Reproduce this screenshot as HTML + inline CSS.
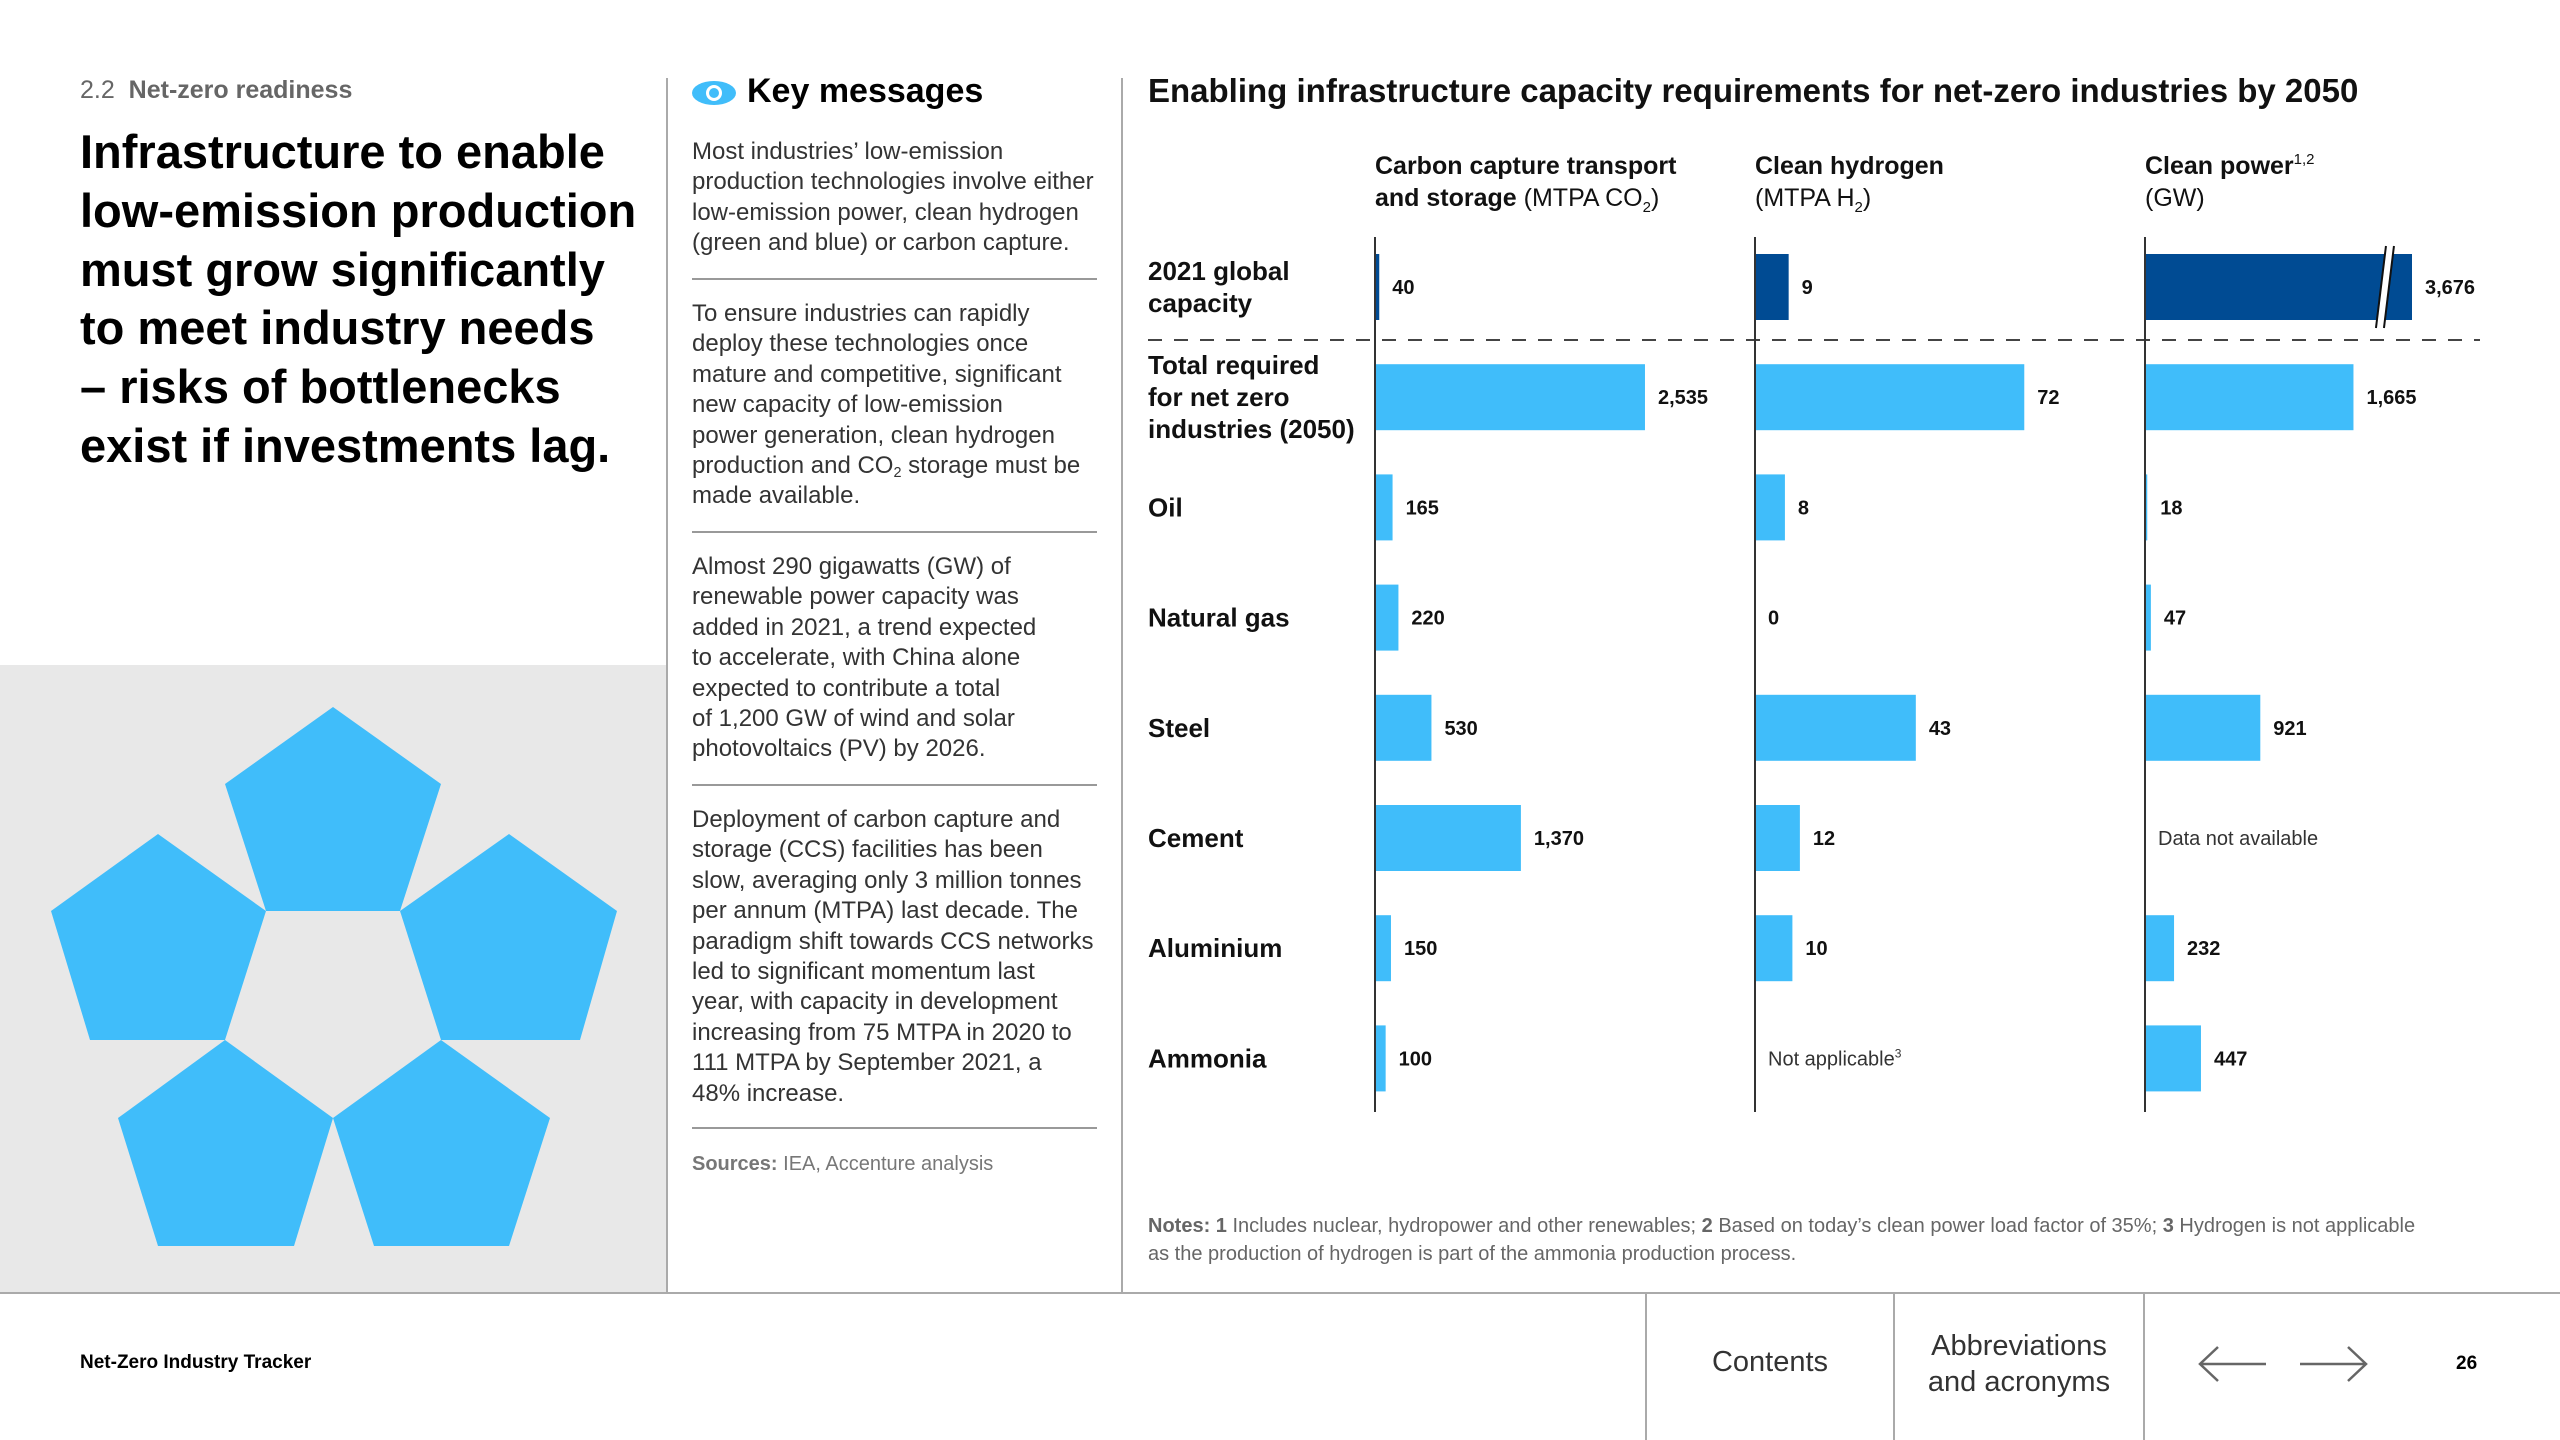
<!DOCTYPE html>
<html><head><meta charset="utf-8">
<style>
body{margin:0;width:2560px;height:1440px;position:relative;background:#fff;font-family:"Liberation Sans",Arial,sans-serif;color:#000;overflow:hidden}
.abs{position:absolute}
.p{position:absolute;left:692px;font-size:24px;line-height:30.4px;color:#333;white-space:nowrap}
.sep{position:absolute;left:692px;width:405px;height:2px;background:#999}
sub{font-size:60%;vertical-align:-4px;line-height:0}
</style></head><body>
<div class="abs" style="left:80px;top:76px;font-size:25px;color:#666">2.2&nbsp; <b>Net-zero readiness</b></div>
<div class="abs" style="left:80px;top:123px;font-size:47px;line-height:58.8px;font-weight:bold;white-space:nowrap">Infrastructure to enable<br>low-emission production<br>must grow significantly<br>to meet industry needs<br>– risks of bottlenecks<br>exist if investments lag.</div>
<div class="abs" style="left:0;top:665px;width:666px;height:628px;background:#e8e8e8"></div>
<svg class="abs" style="left:0;top:0" width="700" height="1300">
<g fill="#40bdfa">
<polygon points="333,707 441,784 400,911 266,911 225,784"/>
<polygon points="158,834 266,911 225,1040 90,1040 51,911"/>
<polygon points="509,834 617,911 580,1040 441,1040 400,911"/>
<polygon points="225,1040 333,1118 294,1246 158,1246 118,1118"/>
<polygon points="441,1040 550,1118 509,1246 374,1246 333,1118"/>
</g></svg>
<div class="abs" style="left:666px;top:78px;width:2px;height:1215px;background:#aaa"></div>
<div class="abs" style="left:1121px;top:78px;width:2px;height:1215px;background:#aaa"></div>
<div class="abs" style="left:0;top:1292px;width:2560px;height:2px;background:#aaa"></div>

<svg class="abs" style="left:690px;top:78px" width="48" height="30"><ellipse cx="24" cy="15" rx="22" ry="12" fill="#40bdfa"/><circle cx="24" cy="15" r="8" fill="#fff"/><circle cx="24" cy="15" r="5" fill="#40bdfa"/></svg>
<div class="abs" style="left:747px;top:72px;font-size:34px;font-weight:bold">Key messages</div>
<div class="p" style="top:137px">Most industries’ low-emission<br>production technologies involve either<br>low-emission power, clean hydrogen<br>(green and blue) or carbon capture.</div>
<div class="sep" style="top:278px"></div>
<div class="p" style="top:299px">To ensure industries can rapidly<br>deploy these technologies once<br>mature and competitive, significant<br>new capacity of low-emission<br>power generation, clean hydrogen<br>production and CO<sub>2</sub> storage must be<br>made available.</div>
<div class="sep" style="top:531px"></div>
<div class="p" style="top:552px">Almost 290 gigawatts (GW) of<br>renewable power capacity was<br>added in 2021, a trend expected<br>to accelerate, with China alone<br>expected to contribute a total<br>of 1,200 GW of wind and solar<br>photovoltaics (PV) by 2026.</div>
<div class="sep" style="top:784px"></div>
<div class="p" style="top:805px">Deployment of carbon capture and<br>storage (CCS) facilities has been<br>slow, averaging only 3 million tonnes<br>per annum (MTPA) last decade. The<br>paradigm shift towards CCS networks<br>led to significant momentum last<br>year, with capacity in development<br>increasing from 75 MTPA in 2020 to<br>111 MTPA by September 2021, a<br>48% increase.</div>
<div class="sep" style="top:1127px"></div>
<div class="p" style="top:1149px;font-size:20px;color:#777"><b>Sources:</b> IEA, Accenture analysis</div>

<div class="abs" style="left:1148px;top:72px;font-size:33px;font-weight:bold;color:#111;white-space:nowrap">Enabling infrastructure capacity requirements for net-zero industries by 2050</div>
<svg class="abs" id="chart" style="left:0;top:0" width="2560" height="1290"></svg>
<div class="abs" style="left:1148px;top:1212px;font-size:20px;line-height:28px;color:#666;white-space:nowrap"><b>Notes: 1</b> Includes nuclear, hydropower and other renewables; <b>2</b> Based on today’s clean power load factor of 35%; <b>3</b> Hydrogen is not applicable<br>as the production of hydrogen is part of the ammonia production process.</div>

<div class="abs" style="left:80px;top:1352px;font-size:19px;font-weight:bold">Net-Zero Industry Tracker</div>
<div class="abs" style="left:1645px;top:1293px;width:2px;height:147px;background:#aaa"></div>
<div class="abs" style="left:1893px;top:1293px;width:2px;height:147px;background:#aaa"></div>
<div class="abs" style="left:2143px;top:1293px;width:2px;height:147px;background:#aaa"></div>
<div class="abs" style="left:1647px;top:1346px;width:246px;text-align:center;font-size:29px;color:#333">Contents</div>
<div class="abs" style="left:1895px;top:1328px;width:248px;text-align:center;font-size:29px;line-height:36px;color:#333">Abbreviations<br>and acronyms</div>
<svg class="abs" style="left:2196px;top:1344px" width="72" height="40"><path d="M70 20H4M22 3L4 20L22 37" fill="none" stroke="#666" stroke-width="2.5"/></svg>
<svg class="abs" style="left:2298px;top:1344px" width="72" height="40"><path d="M2 20H68M50 3L68 20L50 37" fill="none" stroke="#666" stroke-width="2.5"/></svg>
<div class="abs" style="left:2456px;top:1353px;font-size:19px;font-weight:bold">26</div>

<script>
const rowLabels=[["2021 global","capacity"],["Total required","for net zero","industries (2050)"],["Oil"],["Natural gas"],["Steel"],["Cement"],["Aluminium"],["Ammonia"]];
const ccsValues=[40,2535,165,220,530,1370,150,100];
const h2Values=[9,72,8,0,43,12,10,null];
const powerValues=[3676,1665,18,47,921,null,232,447];
const ccsLabels=["40","2,535","165","220","530","1,370","150","100"];
const h2Labels=["9","72","8","0","43","12","10","Not applicable"];
const powerLabels=["3,676","1,665","18","47","921","Data not available","232","447"];

const NS="http://www.w3.org/2000/svg";
const svg=document.getElementById('chart');
function mk(tag,attrs,parent){const e=document.createElementNS(NS,tag);for(const k in attrs)e.setAttribute(k,attrs[k]);(parent||svg).appendChild(e);return e;}
const rowY=i=>287+i*110.2;
const BAR_H=66, CAP=267, BREAK_AT=300;
const cols=[
 {x0:1375,scale:v=>v*0.1065,vals:ccsValues,labs:ccsLabels,h1:"Carbon capture transport",h2b:"and storage",h2r:" (MTPA CO",sub:"2",tail:")"},
 {x0:1755,scale:v=>v*3.74,vals:h2Values,labs:h2Labels,h1:"Clean hydrogen",h2b:"",h2r:"(MTPA H",sub:"2",tail:")"},
 {x0:2145,scale:v=>v*0.1252,vals:powerValues,labs:powerLabels,h1:"Clean power",sup:"1,2",h2b:"",h2r:"(GW)",sub:"",tail:""}
];
rowLabels.forEach((lines,i)=>{
  const n=lines.length, y0=rowY(i)-(n-1)*16;
  lines.forEach((l,j)=>{
    const t=mk('text',{x:1148,y:y0+j*32+9,'font-size':26,'font-weight':'bold',fill:'#111'});
    
    
    t.textContent=l;
  });
});
const dl=mk('line',{x1:1148,x2:2480,y1:340,y2:340,stroke:'#444','stroke-width':2,'stroke-dasharray':'14 12'});


cols.forEach((c,ci)=>{
  const t1=mk('text',{x:c.x0,y:174,'font-size':25,'font-weight':'bold',fill:'#111'});
  
  
  t1.textContent=c.h1;
  if(c.sup){const s=mk('tspan',{'font-size':15,'font-weight':'normal',dy:-10},t1);s.textContent=c.sup;}
  const t2=mk('text',{x:c.x0,y:206,'font-size':25,fill:'#111'});
  
  
  if(c.h2b){const b=mk('tspan',{'font-weight':'bold'},t2);b.textContent=c.h2b;}
  const r=mk('tspan',{},t2);r.textContent=c.h2r;
  if(c.sub){const s=mk('tspan',{'font-size':15,dy:6},t2);s.textContent=c.sub;const tl=mk('tspan',{dy:-6},t2);tl.textContent=c.tail;}
  c.vals.forEach((v,i)=>{
    const cy=rowY(i);
    if(v===null){
      const tx=mk('text',{x:c.x0+13,y:cy+7,'font-size':20,fill:'#333'});
      
      
      tx.textContent=c.labs[i];
      if(ci===1){const s=mk('tspan',{'font-size':12,dy:-8},tx);s.textContent="3";}
      return;
    }
    let w=c.scale(v), broken=false;
    if(w>BREAK_AT){w=CAP;broken=true;}
    const bar=mk('rect',{x:c.x0,y:cy-BAR_H/2,width:Math.max(w,0),height:BAR_H,fill:i===0?'#004b93':'#40bdfa'});
    
    
    if(broken){
      const bx=c.x0+w*0.88;
      const g=mk('polygon',{points:`${bx-4},${cy+BAR_H/2+8} ${bx+6},${cy-BAR_H/2-8} ${bx+14},${cy-BAR_H/2-8} ${bx+4},${cy+BAR_H/2+8}`,fill:'#fff'});
      
      
      [[bx-4,bx+6],[bx+4,bx+14]].forEach(p=>{
        const l=mk('line',{x1:p[0],y1:cy+BAR_H/2+8,x2:p[1],y2:cy-BAR_H/2-8,stroke:'#111','stroke-width':2});
        
        
      });
    }
    const lt=mk('text',{x:c.x0+w+13,y:cy+7,'font-size':20,'font-weight':'bold',fill:'#111'});
    
    
    lt.textContent=c.labs[i];
  });
  const ax=mk('line',{x1:c.x0,x2:c.x0,y1:237,y2:1112,stroke:'#333','stroke-width':2});
  
  
});
</script>
</body></html>
